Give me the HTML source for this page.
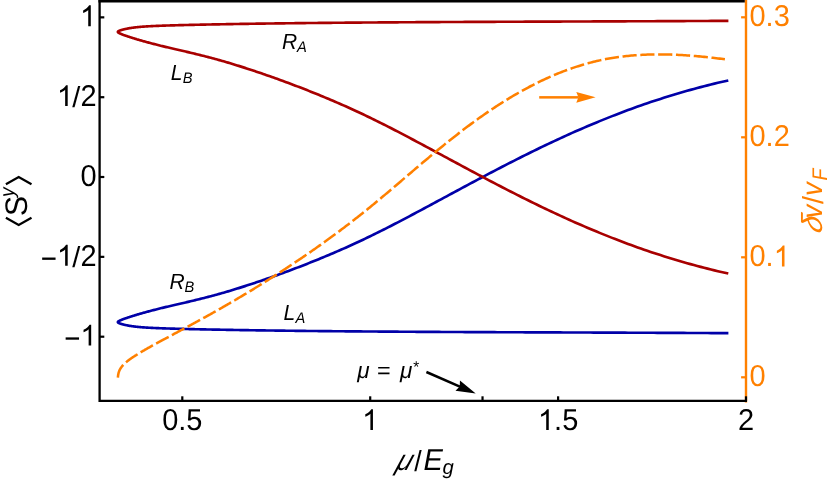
<!DOCTYPE html>
<html><head><meta charset="utf-8"><title>chart</title>
<style>html,body{margin:0;padding:0;background:#fff;}body{width:830px;height:481px;overflow:hidden;font-family:"Liberation Sans",sans-serif;}svg{display:block;will-change:transform;transform:translateZ(0);}text{text-rendering:geometricPrecision;}</style>
</head><body>
<svg width="830" height="481" viewBox="0 0 830 481">
<rect width="830" height="481" fill="#fff"/>
<g fill="none" stroke-linejoin="round">
<path d="M728.40 333.16 L724.91 333.14 L721.43 333.12 L717.96 333.10 L714.51 333.08 L711.06 333.07 L707.62 333.05 L704.19 333.03 L700.77 333.02 L697.36 333.00 L693.96 332.98 L690.57 332.97 L687.20 332.95 L683.83 332.94 L680.47 332.92 L677.12 332.90 L673.78 332.89 L670.45 332.87 L667.13 332.86 L663.82 332.84 L660.53 332.83 L657.24 332.82 L653.96 332.80 L650.69 332.79 L647.43 332.77 L644.18 332.76 L640.94 332.75 L637.71 332.73 L634.49 332.72 L631.29 332.71 L628.09 332.70 L624.90 332.68 L621.72 332.67 L618.55 332.66 L615.39 332.65 L612.24 332.63 L609.10 332.62 L605.98 332.61 L602.86 332.60 L599.75 332.59 L596.65 332.57 L593.56 332.56 L590.48 332.55 L587.41 332.54 L584.35 332.53 L581.30 332.52 L578.27 332.51 L575.24 332.50 L572.22 332.48 L569.21 332.47 L566.21 332.46 L563.22 332.45 L560.24 332.44 L557.27 332.43 L554.31 332.42 L551.36 332.41 L548.43 332.40 L545.50 332.39 L542.58 332.38 L539.67 332.36 L536.77 332.35 L533.88 332.34 L531.00 332.33 L528.13 332.32 L525.27 332.31 L522.43 332.30 L519.59 332.29 L516.76 332.28 L513.94 332.27 L511.13 332.26 L508.33 332.25 L505.54 332.23 L502.76 332.22 L499.99 332.21 L497.23 332.20 L494.49 332.19 L491.75 332.18 L489.02 332.17 L486.30 332.16 L483.59 332.14 L480.89 332.13 L478.20 332.12 L475.52 332.11 L472.85 332.10 L470.19 332.08 L467.55 332.07 L464.91 332.06 L462.28 332.05 L459.66 332.04 L457.05 332.02 L454.45 332.01 L451.86 332.00 L449.28 331.99 L446.71 331.97 L444.15 331.96 L441.60 331.95 L439.07 331.93 L436.54 331.92 L434.02 331.91 L431.51 331.89 L429.01 331.88 L426.52 331.87 L424.04 331.85 L421.57 331.84 L419.11 331.82 L416.66 331.81 L414.22 331.80 L411.79 331.78 L409.38 331.77 L406.97 331.75 L404.57 331.74 L402.18 331.72 L399.80 331.71 L397.43 331.69 L395.07 331.68 L392.72 331.66 L390.38 331.65 L388.05 331.63 L385.73 331.61 L383.42 331.60 L381.13 331.58 L378.84 331.57 L376.56 331.55 L374.29 331.53 L372.03 331.52 L369.78 331.50 L367.54 331.49 L365.31 331.47 L363.09 331.45 L360.88 331.43 L358.68 331.42 L356.49 331.40 L354.32 331.38 L352.15 331.37 L349.99 331.35 L347.84 331.33 L345.70 331.31 L343.57 331.29 L341.45 331.28 L339.34 331.26 L337.24 331.24 L335.15 331.22 L333.07 331.20 L331.00 331.18 L328.94 331.16 L326.89 331.14 L324.86 331.13 L322.83 331.11 L320.81 331.09 L318.80 331.07 L316.80 331.05 L314.81 331.03 L312.83 331.01 L310.86 330.99 L308.90 330.97 L306.95 330.95 L305.01 330.93 L303.08 330.90 L301.16 330.88 L299.25 330.86 L297.35 330.84 L295.47 330.82 L293.59 330.80 L291.72 330.78 L289.86 330.75 L288.01 330.73 L286.17 330.71 L284.34 330.69 L282.52 330.67 L280.71 330.64 L278.91 330.62 L277.12 330.60 L275.34 330.57 L273.57 330.55 L271.81 330.53 L270.06 330.50 L268.32 330.48 L266.59 330.46 L264.88 330.43 L263.17 330.41 L261.47 330.39 L259.78 330.36 L258.10 330.34 L256.43 330.31 L254.77 330.29 L253.12 330.26 L251.48 330.24 L249.85 330.21 L248.23 330.19 L246.62 330.16 L245.02 330.14 L243.43 330.11 L241.85 330.09 L240.28 330.06 L238.72 330.04 L237.17 330.01 L235.63 329.98 L234.11 329.96 L232.59 329.93 L231.08 329.91 L229.58 329.88 L228.09 329.85 L226.61 329.83 L225.14 329.80 L223.68 329.77 L222.23 329.75 L220.79 329.72 L219.36 329.69 L217.94 329.67 L216.53 329.64 L215.13 329.61 L213.74 329.59 L212.36 329.56 L210.99 329.53 L209.63 329.50 L208.28 329.48 L206.94 329.45 L205.61 329.42 L204.29 329.39 L202.98 329.37 L201.69 329.34 L200.40 329.31 L199.12 329.28 L197.85 329.26 L196.59 329.23 L195.34 329.20 L194.10 329.17 L192.87 329.14 L191.65 329.12 L190.44 329.09 L189.24 329.06 L188.05 329.03 L186.87 329.00 L185.70 328.98 L184.54 328.95 L183.39 328.92 L182.25 328.89 L181.12 328.86 L180.00 328.83 L178.89 328.81 L177.79 328.78 L176.70 328.75 L175.62 328.72 L174.55 328.69 L173.49 328.66 L172.44 328.63 L171.40 328.60 L170.37 328.57 L169.35 328.54 L168.34 328.51 L167.35 328.48 L166.36 328.45 L165.38 328.42 L164.41 328.39 L163.45 328.35 L162.50 328.32 L161.56 328.29 L160.63 328.25 L159.71 328.22 L158.80 328.18 L157.90 328.15 L157.01 328.11 L156.13 328.07 L155.26 328.04 L154.40 328.00 L153.55 327.96 L152.71 327.92 L151.88 327.88 L151.06 327.84 L150.25 327.79 L149.45 327.75 L148.66 327.70 L147.88 327.66 L147.11 327.61 L146.35 327.57 L145.60 327.52 L144.86 327.47 L144.13 327.42 L143.41 327.36 L142.70 327.31 L142.00 327.26 L141.31 327.20 L140.63 327.15 L139.96 327.09 L139.30 327.03 L138.65 326.97 L138.01 326.91 L137.38 326.85 L136.76 326.78 L136.15 326.72 L135.55 326.65 L134.96 326.58 L134.38 326.51 L133.81 326.44 L133.25 326.37 L132.70 326.29 L132.16 326.22 L131.63 326.14 L131.11 326.06 L130.60 325.98 L130.10 325.90 L129.61 325.82 L129.13 325.74 L128.66 325.65 L128.20 325.57 L127.75 325.49 L127.31 325.40 L126.88 325.32 L126.46 325.23 L126.05 325.15 L125.65 325.06 L125.26 324.97 L124.88 324.89 L124.51 324.80 L124.15 324.71 L123.80 324.63 L123.46 324.54 L123.13 324.46 L122.81 324.37 L122.50 324.29 L122.20 324.20 L121.91 324.12 L121.63 324.04 L121.36 323.96 L121.10 323.88 L120.85 323.80 L120.61 323.72 L120.38 323.64 L120.16 323.56 L119.95 323.49 L119.75 323.42 L119.56 323.34 L119.38 323.27 L119.21 323.20 L119.05 323.13 L118.90 323.06 L118.76 323.00 L118.63 322.93 L118.51 322.86 L118.40 322.80 L118.30 322.73 L118.21 322.67 L118.13 322.60 L118.06 322.54 L118.00 322.47 L117.95 322.41 L117.91 322.34 L117.88 322.28 L117.86 322.21 L117.85 322.15 L117.85 322.08 L117.86 322.02 L117.88 321.95 L117.91 321.88 L117.95 321.81 L118.00 321.74 L118.06 321.67 L118.13 321.60 L118.21 321.53 L118.30 321.45 L118.40 321.38 L118.51 321.30 L118.63 321.22 L118.76 321.14 L118.90 321.06 L119.05 320.98 L119.21 320.89 L119.38 320.80 L119.56 320.71 L119.75 320.62 L119.95 320.53 L120.16 320.43 L120.38 320.33 L120.61 320.23 L120.85 320.13 L121.10 320.03 L121.36 319.92 L121.63 319.81 L121.91 319.70 L122.20 319.58 L122.49 319.46 L122.80 319.34 L123.12 319.22 L123.45 319.10 L123.79 318.97 L124.14 318.85 L124.50 318.72 L124.87 318.58 L125.25 318.45 L125.64 318.31 L126.04 318.17 L126.45 318.03 L126.87 317.89 L127.30 317.74 L127.74 317.59 L128.19 317.44 L128.65 317.29 L129.12 317.14 L129.60 316.98 L130.09 316.82 L130.59 316.66 L131.10 316.50 L131.62 316.33 L132.15 316.17 L132.69 316.00 L133.24 315.83 L133.80 315.66 L134.37 315.48 L134.95 315.30 L135.54 315.13 L136.14 314.95 L136.74 314.76 L137.36 314.58 L137.99 314.39 L138.63 314.20 L139.28 314.01 L139.94 313.82 L140.61 313.63 L141.29 313.43 L141.98 313.24 L142.68 313.04 L143.39 312.84 L144.11 312.64 L144.84 312.43 L145.58 312.23 L146.33 312.02 L147.09 311.81 L147.86 311.60 L148.64 311.39 L149.43 311.18 L150.23 310.97 L151.04 310.75 L151.86 310.54 L152.68 310.32 L153.52 310.10 L154.37 309.88 L155.23 309.66 L156.10 309.43 L156.98 309.21 L157.87 308.99 L158.77 308.76 L159.68 308.53 L160.60 308.30 L161.53 308.07 L162.47 307.84 L163.42 307.61 L164.38 307.38 L165.35 307.15 L166.33 306.91 L167.32 306.68 L168.32 306.44 L169.33 306.20 L170.34 305.96 L171.37 305.72 L172.41 305.48 L173.46 305.24 L174.52 304.99 L175.59 304.75 L176.67 304.50 L177.76 304.25 L178.86 303.99 L179.97 303.74 L181.09 303.48 L182.22 303.22 L183.36 302.96 L184.51 302.69 L185.67 302.42 L186.84 302.15 L188.02 301.87 L189.20 301.59 L190.40 301.31 L191.61 301.02 L192.83 300.73 L194.06 300.43 L195.30 300.13 L196.55 299.83 L197.81 299.52 L199.08 299.21 L200.36 298.89 L201.65 298.57 L202.95 298.24 L204.26 297.91 L205.58 297.58 L206.91 297.23 L208.24 296.88 L209.59 296.53 L210.95 296.17 L212.32 295.81 L213.70 295.43 L215.09 295.06 L216.49 294.67 L217.90 294.28 L219.32 293.88 L220.75 293.48 L222.19 293.07 L223.64 292.65 L225.10 292.23 L226.57 291.80 L228.04 291.36 L229.53 290.92 L231.03 290.47 L232.54 290.01 L234.06 289.55 L235.59 289.08 L237.13 288.60 L238.68 288.12 L240.24 287.63 L241.81 287.13 L243.39 286.63 L244.98 286.12 L246.58 285.60 L248.18 285.08 L249.80 284.55 L251.43 284.01 L253.07 283.47 L254.72 282.92 L256.38 282.36 L258.05 281.79 L259.73 281.22 L261.42 280.64 L263.12 280.06 L264.83 279.47 L266.55 278.87 L268.27 278.26 L270.01 277.65 L271.76 277.03 L273.52 276.40 L275.29 275.77 L277.07 275.13 L278.86 274.48 L280.66 273.83 L282.47 273.16 L284.29 272.50 L286.12 271.82 L287.95 271.14 L289.80 270.45 L291.66 269.75 L293.53 269.05 L295.41 268.34 L297.30 267.62 L299.20 266.89 L301.11 266.15 L303.03 265.41 L304.96 264.66 L306.90 263.90 L308.84 263.13 L310.80 262.35 L312.77 261.56 L314.75 260.77 L316.74 259.97 L318.74 259.15 L320.75 258.33 L322.77 257.50 L324.80 256.65 L326.84 255.80 L328.88 254.94 L330.94 254.07 L333.01 253.19 L335.09 252.29 L337.18 251.39 L339.28 250.48 L341.39 249.55 L343.51 248.62 L345.64 247.67 L347.78 246.71 L349.92 245.74 L352.08 244.76 L354.25 243.77 L356.43 242.76 L358.62 241.75 L360.82 240.72 L363.03 239.68 L365.25 238.63 L367.48 237.56 L369.72 236.48 L371.96 235.39 L374.22 234.29 L376.49 233.17 L378.77 232.04 L381.06 230.90 L383.36 229.74 L385.67 228.58 L387.99 227.40 L390.32 226.21 L392.65 225.01 L395.00 223.80 L397.36 222.58 L399.73 221.34 L402.11 220.10 L404.50 218.85 L406.90 217.58 L409.31 216.31 L411.73 215.03 L414.15 213.74 L416.59 212.44 L419.04 211.14 L421.50 209.82 L423.97 208.50 L426.45 207.17 L428.94 205.84 L431.44 204.49 L433.95 203.14 L436.46 201.78 L438.99 200.42 L441.53 199.05 L444.08 197.68 L446.64 196.30 L449.21 194.91 L451.79 193.52 L454.38 192.13 L456.97 190.73 L459.58 189.32 L462.20 187.92 L464.83 186.51 L467.47 185.09 L470.12 183.68 L472.78 182.26 L475.45 180.83 L478.12 179.41 L480.81 177.98 L483.51 176.56 L486.22 175.13 L488.94 173.70 L491.67 172.26 L494.41 170.83 L497.16 169.40 L499.91 167.97 L502.68 166.54 L505.46 165.10 L508.25 163.67 L511.05 162.24 L513.86 160.81 L516.68 159.39 L519.51 157.96 L522.34 156.54 L525.19 155.12 L528.05 153.70 L530.92 152.28 L533.80 150.87 L536.69 149.46 L539.59 148.05 L542.49 146.65 L545.41 145.26 L548.34 143.86 L551.28 142.47 L554.23 141.09 L557.19 139.71 L560.16 138.34 L563.14 136.98 L566.12 135.62 L569.12 134.26 L572.13 132.91 L575.15 131.57 L578.18 130.24 L581.22 128.92 L584.27 127.60 L587.32 126.29 L590.39 124.99 L593.47 123.69 L596.56 122.41 L599.66 121.13 L602.77 119.87 L605.89 118.61 L609.01 117.36 L612.15 116.13 L615.30 114.90 L618.46 113.68 L621.63 112.48 L624.81 111.28 L628.00 110.10 L631.19 108.93 L634.40 107.76 L637.62 106.61 L640.85 105.47 L644.09 104.34 L647.34 103.23 L650.60 102.12 L653.86 101.03 L657.14 99.95 L660.43 98.89 L663.73 97.83 L667.04 96.79 L670.36 95.76 L673.68 94.75 L677.02 93.74 L680.37 92.76 L683.73 91.78 L687.10 90.82 L690.48 89.87 L693.87 88.94 L697.26 88.02 L700.67 87.12 L704.09 86.23 L707.52 85.36 L710.96 84.50 L714.41 83.66 L717.86 82.83 L721.33 82.02 L724.81 81.22 L728.30 80.44" stroke="#0000a8" stroke-width="2.65"/>
<path d="M728.40 20.84 L724.91 20.86 L721.43 20.88 L717.96 20.90 L714.51 20.92 L711.06 20.93 L707.62 20.95 L704.19 20.97 L700.77 20.98 L697.36 21.00 L693.96 21.02 L690.57 21.03 L687.20 21.05 L683.83 21.06 L680.47 21.08 L677.12 21.10 L673.78 21.11 L670.45 21.13 L667.13 21.14 L663.82 21.16 L660.53 21.17 L657.24 21.18 L653.96 21.20 L650.69 21.21 L647.43 21.23 L644.18 21.24 L640.94 21.25 L637.71 21.27 L634.49 21.28 L631.29 21.29 L628.09 21.30 L624.90 21.32 L621.72 21.33 L618.55 21.34 L615.39 21.35 L612.24 21.37 L609.10 21.38 L605.98 21.39 L602.86 21.40 L599.75 21.41 L596.65 21.43 L593.56 21.44 L590.48 21.45 L587.41 21.46 L584.35 21.47 L581.30 21.48 L578.27 21.49 L575.24 21.50 L572.22 21.52 L569.21 21.53 L566.21 21.54 L563.22 21.55 L560.24 21.56 L557.27 21.57 L554.31 21.58 L551.36 21.59 L548.43 21.60 L545.50 21.61 L542.58 21.62 L539.67 21.64 L536.77 21.65 L533.88 21.66 L531.00 21.67 L528.13 21.68 L525.27 21.69 L522.43 21.70 L519.59 21.71 L516.76 21.72 L513.94 21.73 L511.13 21.74 L508.33 21.75 L505.54 21.77 L502.76 21.78 L499.99 21.79 L497.23 21.80 L494.49 21.81 L491.75 21.82 L489.02 21.83 L486.30 21.84 L483.59 21.86 L480.89 21.87 L478.20 21.88 L475.52 21.89 L472.85 21.90 L470.19 21.92 L467.55 21.93 L464.91 21.94 L462.28 21.95 L459.66 21.96 L457.05 21.98 L454.45 21.99 L451.86 22.00 L449.28 22.01 L446.71 22.03 L444.15 22.04 L441.60 22.05 L439.07 22.07 L436.54 22.08 L434.02 22.09 L431.51 22.11 L429.01 22.12 L426.52 22.13 L424.04 22.15 L421.57 22.16 L419.11 22.18 L416.66 22.19 L414.22 22.20 L411.79 22.22 L409.38 22.23 L406.97 22.25 L404.57 22.26 L402.18 22.28 L399.80 22.29 L397.43 22.31 L395.07 22.32 L392.72 22.34 L390.38 22.35 L388.05 22.37 L385.73 22.39 L383.42 22.40 L381.13 22.42 L378.84 22.43 L376.56 22.45 L374.29 22.47 L372.03 22.48 L369.78 22.50 L367.54 22.51 L365.31 22.53 L363.09 22.55 L360.88 22.57 L358.68 22.58 L356.49 22.60 L354.32 22.62 L352.15 22.63 L349.99 22.65 L347.84 22.67 L345.70 22.69 L343.57 22.71 L341.45 22.72 L339.34 22.74 L337.24 22.76 L335.15 22.78 L333.07 22.80 L331.00 22.82 L328.94 22.84 L326.89 22.86 L324.86 22.87 L322.83 22.89 L320.81 22.91 L318.80 22.93 L316.80 22.95 L314.81 22.97 L312.83 22.99 L310.86 23.01 L308.90 23.03 L306.95 23.05 L305.01 23.07 L303.08 23.10 L301.16 23.12 L299.25 23.14 L297.35 23.16 L295.47 23.18 L293.59 23.20 L291.72 23.22 L289.86 23.25 L288.01 23.27 L286.17 23.29 L284.34 23.31 L282.52 23.33 L280.71 23.36 L278.91 23.38 L277.12 23.40 L275.34 23.43 L273.57 23.45 L271.81 23.47 L270.06 23.50 L268.32 23.52 L266.59 23.54 L264.88 23.57 L263.17 23.59 L261.47 23.61 L259.78 23.64 L258.10 23.66 L256.43 23.69 L254.77 23.71 L253.12 23.74 L251.48 23.76 L249.85 23.79 L248.23 23.81 L246.62 23.84 L245.02 23.86 L243.43 23.89 L241.85 23.91 L240.28 23.94 L238.72 23.96 L237.17 23.99 L235.63 24.02 L234.11 24.04 L232.59 24.07 L231.08 24.09 L229.58 24.12 L228.09 24.15 L226.61 24.17 L225.14 24.20 L223.68 24.23 L222.23 24.25 L220.79 24.28 L219.36 24.31 L217.94 24.33 L216.53 24.36 L215.13 24.39 L213.74 24.41 L212.36 24.44 L210.99 24.47 L209.63 24.50 L208.28 24.52 L206.94 24.55 L205.61 24.58 L204.29 24.61 L202.98 24.63 L201.69 24.66 L200.40 24.69 L199.12 24.72 L197.85 24.74 L196.59 24.77 L195.34 24.80 L194.10 24.83 L192.87 24.86 L191.65 24.88 L190.44 24.91 L189.24 24.94 L188.05 24.97 L186.87 25.00 L185.70 25.02 L184.54 25.05 L183.39 25.08 L182.25 25.11 L181.12 25.14 L180.00 25.17 L178.89 25.19 L177.79 25.22 L176.70 25.25 L175.62 25.28 L174.55 25.31 L173.49 25.34 L172.44 25.37 L171.40 25.40 L170.37 25.43 L169.35 25.46 L168.34 25.49 L167.35 25.52 L166.36 25.55 L165.38 25.58 L164.41 25.61 L163.45 25.65 L162.50 25.68 L161.56 25.71 L160.63 25.75 L159.71 25.78 L158.80 25.82 L157.90 25.85 L157.01 25.89 L156.13 25.93 L155.26 25.96 L154.40 26.00 L153.55 26.04 L152.71 26.08 L151.88 26.12 L151.06 26.16 L150.25 26.21 L149.45 26.25 L148.66 26.30 L147.88 26.34 L147.11 26.39 L146.35 26.43 L145.60 26.48 L144.86 26.53 L144.13 26.58 L143.41 26.64 L142.70 26.69 L142.00 26.74 L141.31 26.80 L140.63 26.85 L139.96 26.91 L139.30 26.97 L138.65 27.03 L138.01 27.09 L137.38 27.15 L136.76 27.22 L136.15 27.28 L135.55 27.35 L134.96 27.42 L134.38 27.49 L133.81 27.56 L133.25 27.63 L132.70 27.71 L132.16 27.78 L131.63 27.86 L131.11 27.94 L130.60 28.02 L130.10 28.10 L129.61 28.18 L129.13 28.26 L128.66 28.35 L128.20 28.43 L127.75 28.51 L127.31 28.60 L126.88 28.68 L126.46 28.77 L126.05 28.85 L125.65 28.94 L125.26 29.03 L124.88 29.11 L124.51 29.20 L124.15 29.29 L123.80 29.37 L123.46 29.46 L123.13 29.54 L122.81 29.63 L122.50 29.71 L122.20 29.80 L121.91 29.88 L121.63 29.96 L121.36 30.04 L121.10 30.12 L120.85 30.20 L120.61 30.28 L120.38 30.36 L120.16 30.44 L119.95 30.51 L119.75 30.58 L119.56 30.66 L119.38 30.73 L119.21 30.80 L119.05 30.87 L118.90 30.94 L118.76 31.00 L118.63 31.07 L118.51 31.14 L118.40 31.20 L118.30 31.27 L118.21 31.33 L118.13 31.40 L118.06 31.46 L118.00 31.53 L117.95 31.59 L117.91 31.66 L117.88 31.72 L117.86 31.79 L117.85 31.85 L117.85 31.92 L117.86 31.98 L117.88 32.05 L117.91 32.12 L117.95 32.19 L118.00 32.26 L118.06 32.33 L118.13 32.40 L118.21 32.47 L118.30 32.55 L118.40 32.62 L118.51 32.70 L118.63 32.78 L118.76 32.86 L118.90 32.94 L119.05 33.02 L119.21 33.11 L119.38 33.20 L119.56 33.29 L119.75 33.38 L119.95 33.47 L120.16 33.57 L120.38 33.67 L120.61 33.77 L120.85 33.87 L121.10 33.97 L121.36 34.08 L121.63 34.19 L121.91 34.30 L122.20 34.42 L122.49 34.54 L122.80 34.66 L123.12 34.78 L123.45 34.90 L123.79 35.03 L124.14 35.15 L124.50 35.28 L124.87 35.42 L125.25 35.55 L125.64 35.69 L126.04 35.83 L126.45 35.97 L126.87 36.11 L127.30 36.26 L127.74 36.41 L128.19 36.56 L128.65 36.71 L129.12 36.86 L129.60 37.02 L130.09 37.18 L130.59 37.34 L131.10 37.50 L131.62 37.67 L132.15 37.83 L132.69 38.00 L133.24 38.17 L133.80 38.34 L134.37 38.52 L134.95 38.70 L135.54 38.87 L136.14 39.05 L136.74 39.24 L137.36 39.42 L137.99 39.61 L138.63 39.80 L139.28 39.99 L139.94 40.18 L140.61 40.37 L141.29 40.57 L141.98 40.76 L142.68 40.96 L143.39 41.16 L144.11 41.36 L144.84 41.57 L145.58 41.77 L146.33 41.98 L147.09 42.19 L147.86 42.40 L148.64 42.61 L149.43 42.82 L150.23 43.03 L151.04 43.25 L151.86 43.46 L152.68 43.68 L153.52 43.90 L154.37 44.12 L155.23 44.34 L156.10 44.57 L156.98 44.79 L157.87 45.01 L158.77 45.24 L159.68 45.47 L160.60 45.70 L161.53 45.93 L162.47 46.16 L163.42 46.39 L164.38 46.62 L165.35 46.85 L166.33 47.09 L167.32 47.32 L168.32 47.56 L169.33 47.80 L170.34 48.04 L171.37 48.28 L172.41 48.52 L173.46 48.76 L174.52 49.01 L175.59 49.25 L176.67 49.50 L177.76 49.75 L178.86 50.01 L179.97 50.26 L181.09 50.52 L182.22 50.78 L183.36 51.04 L184.51 51.31 L185.67 51.58 L186.84 51.85 L188.02 52.13 L189.20 52.41 L190.40 52.69 L191.61 52.98 L192.83 53.27 L194.06 53.57 L195.30 53.87 L196.55 54.17 L197.81 54.48 L199.08 54.79 L200.36 55.11 L201.65 55.43 L202.95 55.76 L204.26 56.09 L205.58 56.42 L206.91 56.77 L208.24 57.12 L209.59 57.47 L210.95 57.83 L212.32 58.19 L213.70 58.57 L215.09 58.94 L216.49 59.33 L217.90 59.72 L219.32 60.12 L220.75 60.52 L222.19 60.93 L223.64 61.35 L225.10 61.77 L226.57 62.20 L228.04 62.64 L229.53 63.08 L231.03 63.53 L232.54 63.99 L234.06 64.45 L235.59 64.92 L237.13 65.40 L238.68 65.88 L240.24 66.37 L241.81 66.87 L243.39 67.37 L244.98 67.88 L246.58 68.40 L248.18 68.92 L249.80 69.45 L251.43 69.99 L253.07 70.53 L254.72 71.08 L256.38 71.64 L258.05 72.21 L259.73 72.78 L261.42 73.36 L263.12 73.94 L264.83 74.53 L266.55 75.13 L268.27 75.74 L270.01 76.35 L271.76 76.97 L273.52 77.60 L275.29 78.23 L277.07 78.87 L278.86 79.52 L280.66 80.17 L282.47 80.84 L284.29 81.50 L286.12 82.18 L287.95 82.86 L289.80 83.55 L291.66 84.25 L293.53 84.95 L295.41 85.66 L297.30 86.38 L299.20 87.11 L301.11 87.85 L303.03 88.59 L304.96 89.34 L306.90 90.10 L308.84 90.87 L310.80 91.65 L312.77 92.44 L314.75 93.23 L316.74 94.03 L318.74 94.85 L320.75 95.67 L322.77 96.50 L324.80 97.35 L326.84 98.20 L328.88 99.06 L330.94 99.93 L333.01 100.81 L335.09 101.71 L337.18 102.61 L339.28 103.52 L341.39 104.45 L343.51 105.38 L345.64 106.33 L347.78 107.29 L349.92 108.26 L352.08 109.24 L354.25 110.23 L356.43 111.24 L358.62 112.25 L360.82 113.28 L363.03 114.32 L365.25 115.37 L367.48 116.44 L369.72 117.52 L371.96 118.61 L374.22 119.71 L376.49 120.83 L378.77 121.96 L381.06 123.10 L383.36 124.26 L385.67 125.42 L387.99 126.60 L390.32 127.79 L392.65 128.99 L395.00 130.20 L397.36 131.42 L399.73 132.66 L402.11 133.90 L404.50 135.15 L406.90 136.42 L409.31 137.69 L411.73 138.97 L414.15 140.26 L416.59 141.56 L419.04 142.86 L421.50 144.18 L423.97 145.50 L426.45 146.83 L428.94 148.16 L431.44 149.51 L433.95 150.86 L436.46 152.22 L438.99 153.58 L441.53 154.95 L444.08 156.32 L446.64 157.70 L449.21 159.09 L451.79 160.48 L454.38 161.87 L456.97 163.27 L459.58 164.68 L462.20 166.08 L464.83 167.49 L467.47 168.91 L470.12 170.32 L472.78 171.74 L475.45 173.17 L478.12 174.59 L480.81 176.02 L483.51 177.44 L486.22 178.87 L488.94 180.30 L491.67 181.74 L494.41 183.17 L497.16 184.60 L499.91 186.03 L502.68 187.46 L505.46 188.90 L508.25 190.33 L511.05 191.76 L513.86 193.19 L516.68 194.61 L519.51 196.04 L522.34 197.46 L525.19 198.88 L528.05 200.30 L530.92 201.72 L533.80 203.13 L536.69 204.54 L539.59 205.95 L542.49 207.35 L545.41 208.74 L548.34 210.14 L551.28 211.53 L554.23 212.91 L557.19 214.29 L560.16 215.66 L563.14 217.02 L566.12 218.38 L569.12 219.74 L572.13 221.09 L575.15 222.43 L578.18 223.76 L581.22 225.08 L584.27 226.40 L587.32 227.71 L590.39 229.01 L593.47 230.31 L596.56 231.59 L599.66 232.87 L602.77 234.13 L605.89 235.39 L609.01 236.64 L612.15 237.87 L615.30 239.10 L618.46 240.32 L621.63 241.52 L624.81 242.72 L628.00 243.90 L631.19 245.07 L634.40 246.24 L637.62 247.39 L640.85 248.53 L644.09 249.66 L647.34 250.77 L650.60 251.88 L653.86 252.97 L657.14 254.05 L660.43 255.11 L663.73 256.17 L667.04 257.21 L670.36 258.24 L673.68 259.25 L677.02 260.26 L680.37 261.24 L683.73 262.22 L687.10 263.18 L690.48 264.13 L693.87 265.06 L697.26 265.98 L700.67 266.88 L704.09 267.77 L707.52 268.64 L710.96 269.50 L714.41 270.34 L717.86 271.17 L721.33 271.98 L724.81 272.78 L728.30 273.56" stroke="#a80000" stroke-width="2.65"/>
<path d="M117.88 377.60 L117.90 377.48 L117.92 377.15 L117.95 376.82 L117.98 376.51 L118.01 376.20 L118.04 375.89 L118.08 375.60 L118.12 375.31 L118.16 375.02 L118.20 374.74 L118.25 374.47 L118.30 374.20 L118.35 373.94 L118.40 373.69 L118.46 373.43 L118.52 373.19 L118.58 372.95 L118.64 372.71 L118.71 372.48 L118.78 372.25 L118.85 372.02 L118.92 371.80 L119.00 371.58 L119.08 371.37 L119.16 371.16 L119.24 370.95 L119.33 370.74 L119.42 370.54 L119.51 370.33 L119.60 370.13 L119.70 369.94 L119.80 369.74 L119.90 369.55 L120.00 369.35 L120.11 369.16 L120.22 368.97 L120.33 368.78 L120.44 368.59 L120.56 368.40 L120.68 368.21 L120.80 368.02 L120.92 367.83 L121.05 367.65 L121.18 367.46 L121.31 367.28 L121.44 367.09 L121.58 366.91 L121.72 366.73 L121.86 366.55 L122.00 366.36 L122.15 366.18 L122.30 366.00 L122.45 365.82 L122.60 365.64 L122.76 365.46 L122.92 365.29 L123.08 365.11 L123.24 364.93 L123.41 364.75 L123.58 364.58 L123.75 364.40 L123.92 364.22 L124.10 364.05 L124.28 363.87 L124.46 363.70 L124.64 363.52 L124.83 363.35 L125.02 363.17 L125.21 363.00 L125.40 362.82 L125.60 362.65 L125.80 362.47 L126.00 362.30 L126.20 362.12 L126.41 361.95 L126.62 361.78 L126.83 361.60 L127.04 361.43 L127.26 361.25 L127.48 361.08 L127.70 360.90 L127.92 360.73 L128.15 360.55 L128.38 360.38 L128.61 360.20 L128.84 360.03 L129.08 359.85 L129.32 359.68 L129.56 359.50 L129.80 359.32 L130.05 359.15 L130.30 358.97 L130.55 358.79 L130.80 358.61 L131.06 358.43 L131.32 358.25 L131.58 358.07 L131.84 357.89 L132.11 357.71 L132.38 357.53 L132.65 357.35 L132.92 357.17 L133.20 356.98 L133.48 356.80 L133.76 356.62 L134.04 356.43 L134.33 356.24 L134.62 356.06 L134.91 355.87 L135.20 355.68 L135.50 355.49 L135.80 355.31 L136.10 355.12 L136.40 354.92 L136.71 354.73 L137.02 354.54 L137.33 354.35 L137.64 354.15 L137.96 353.96 L138.27 353.76 L138.60 353.57 L138.92 353.37 L139.25 353.17 L139.57 352.97 L139.91 352.77 L140.24 352.57 L140.58 352.37 L140.91 352.17 L141.26 351.97 L141.60 351.76 L141.95 351.56 L142.29 351.36 L142.65 351.15 L143.00 350.94 L143.35 350.73 L143.71 350.53 L144.07 350.32 L144.44 350.11 L144.80 349.89 L145.17 349.68 L145.54 349.47 L145.92 349.26 L146.29 349.04 L146.67 348.82 L147.05 348.61 L147.44 348.39 L147.82 348.17 L148.21 347.95 L148.60 347.73 L149.00 347.51 L149.39 347.29 L149.79 347.06 L150.19 346.84 L150.60 346.61 L151.00 346.39 L151.41 346.16 L151.82 345.93 L152.24 345.70 L152.65 345.47 L153.07 345.24 L153.49 345.01 L153.92 344.78 L154.34 344.54 L154.77 344.31 L155.20 344.07 L155.64 343.83 L156.07 343.59 L156.51 343.35 L156.95 343.11 L157.40 342.87 L157.84 342.63 L158.29 342.39 L158.74 342.14 L159.19 341.89 L159.65 341.65 L160.11 341.40 L160.57 341.15 L161.03 340.90 L161.50 340.65 L161.97 340.40 L162.44 340.14 L162.91 339.89 L163.39 339.63 L163.87 339.37 L164.35 339.11 L164.83 338.86 L165.32 338.59 L165.81 338.33 L166.30 338.07 L166.79 337.81 L167.29 337.54 L167.79 337.27 L168.29 337.01 L168.79 336.74 L169.30 336.47 L169.81 336.19 L170.32 335.92 L170.83 335.65 L171.35 335.37 L171.87 335.10 L172.39 334.82 L172.91 334.54 L173.44 334.26 L173.97 333.98 L174.50 333.69 L175.03 333.41 L175.57 333.12 L176.11 332.84 L176.65 332.55 L177.19 332.26 L177.74 331.97 L178.29 331.67 L178.84 331.38 L179.39 331.08 L179.95 330.79 L180.50 330.49 L181.07 330.19 L181.63 329.89 L182.20 329.58 L182.76 329.28 L183.34 328.97 L183.91 328.67 L184.48 328.36 L185.06 328.05 L185.64 327.74 L186.23 327.42 L186.81 327.11 L187.40 326.79 L187.99 326.47 L188.59 326.16 L189.18 325.83 L189.78 325.51 L190.38 325.19 L190.99 324.86 L191.59 324.53 L192.20 324.21 L192.81 323.88 L193.43 323.54 L194.04 323.21 L194.66 322.87 L195.28 322.54 L195.91 322.20 L196.53 321.86 L197.16 321.51 L197.79 321.17 L198.43 320.82 L199.06 320.48 L199.70 320.13 L200.34 319.78 L200.98 319.42 L201.63 319.07 L202.28 318.71 L202.93 318.35 L203.58 317.99 L204.24 317.63 L204.90 317.27 L205.56 316.90 L206.22 316.54 L206.89 316.17 L207.56 315.80 L208.23 315.42 L208.90 315.05 L209.58 314.67 L210.26 314.30 L210.94 313.91 L211.62 313.53 L212.31 313.15 L213.00 312.76 L213.69 312.37 L214.38 311.98 L215.08 311.59 L215.78 311.20 L216.48 310.80 L217.18 310.40 L217.89 310.01 L218.60 309.60 L219.31 309.20 L220.02 308.79 L220.74 308.39 L221.45 307.98 L222.18 307.56 L222.90 307.15 L223.63 306.73 L224.35 306.31 L225.08 305.89 L225.82 305.47 L226.55 305.05 L227.29 304.62 L228.03 304.19 L228.78 303.76 L229.52 303.33 L230.27 302.89 L231.02 302.46 L231.78 302.02 L232.53 301.57 L233.29 301.13 L234.05 300.68 L234.82 300.24 L235.58 299.78 L236.35 299.33 L237.12 298.88 L237.90 298.42 L238.67 297.96 L239.45 297.50 L240.23 297.03 L241.01 296.57 L241.80 296.10 L242.59 295.63 L243.38 295.15 L244.17 294.68 L244.97 294.20 L245.77 293.72 L246.57 293.24 L247.37 292.75 L248.18 292.27 L248.99 291.78 L249.80 291.28 L250.61 290.79 L251.43 290.29 L252.25 289.79 L253.07 289.29 L253.89 288.79 L254.72 288.28 L255.55 287.77 L256.38 287.26 L257.21 286.75 L258.05 286.23 L258.89 285.71 L259.73 285.19 L260.57 284.67 L261.42 284.14 L262.26 283.61 L263.12 283.08 L263.97 282.55 L264.82 282.01 L265.68 281.47 L266.54 280.93 L267.41 280.38 L268.27 279.84 L269.14 279.29 L270.01 278.74 L270.89 278.18 L271.76 277.62 L272.64 277.06 L273.52 276.50 L274.41 275.94 L275.29 275.37 L276.18 274.80 L277.07 274.23 L277.97 273.65 L278.86 273.07 L279.76 272.49 L280.66 271.91 L281.56 271.32 L282.47 270.73 L283.38 270.14 L284.29 269.54 L285.20 268.95 L286.12 268.34 L287.04 267.74 L287.96 267.14 L288.88 266.53 L289.81 265.92 L290.74 265.30 L291.67 264.68 L292.60 264.06 L293.54 263.44 L294.48 262.81 L295.42 262.18 L296.36 261.55 L297.31 260.92 L298.26 260.28 L299.21 259.64 L300.16 258.99 L301.12 258.35 L302.07 257.70 L303.04 257.04 L304.00 256.38 L304.96 255.72 L305.93 255.06 L306.90 254.39 L307.88 253.72 L308.85 253.05 L309.83 252.37 L310.81 251.69 L311.80 251.01 L312.78 250.32 L313.77 249.63 L314.76 248.94 L315.76 248.24 L316.75 247.54 L317.75 246.83 L318.75 246.12 L319.75 245.41 L320.76 244.69 L321.77 243.98 L322.78 243.25 L323.79 242.53 L324.81 241.79 L325.83 241.06 L326.85 240.32 L327.87 239.58 L328.90 238.83 L329.93 238.08 L330.96 237.33 L331.99 236.57 L333.03 235.81 L334.07 235.05 L335.11 234.28 L336.15 233.50 L337.20 232.73 L338.25 231.94 L339.30 231.16 L340.35 230.37 L341.41 229.57 L342.46 228.78 L343.53 227.97 L344.59 227.17 L345.65 226.36 L346.72 225.54 L347.79 224.72 L348.87 223.90 L349.94 223.07 L351.02 222.24 L352.10 221.40 L353.19 220.56 L354.27 219.71 L355.36 218.86 L356.45 218.01 L357.55 217.15 L358.64 216.28 L359.74 215.41 L360.84 214.54 L361.94 213.66 L363.05 212.78 L364.16 211.89 L365.27 211.00 L366.38 210.11 L367.50 209.20 L368.62 208.30 L369.74 207.39 L370.86 206.47 L371.99 205.55 L373.12 204.63 L374.25 203.69 L375.38 202.76 L376.52 201.82 L377.66 200.87 L378.80 199.92 L379.94 198.97 L381.09 198.01 L382.23 197.05 L383.39 196.08 L384.54 195.11 L385.69 194.14 L386.85 193.16 L388.01 192.18 L389.18 191.19 L390.34 190.20 L391.51 189.21 L392.68 188.22 L393.86 187.22 L395.03 186.21 L396.21 185.21 L397.39 184.20 L398.58 183.19 L399.76 182.18 L400.95 181.16 L402.14 180.15 L403.33 179.12 L404.53 178.10 L405.73 177.08 L406.93 176.05 L408.13 175.02 L409.34 173.99 L410.55 172.96 L411.76 171.93 L412.97 170.89 L414.19 169.86 L415.41 168.82 L416.63 167.78 L417.85 166.74 L419.08 165.70 L420.31 164.66 L421.54 163.62 L422.77 162.58 L424.01 161.54 L425.24 160.49 L426.48 159.45 L427.73 158.41 L428.97 157.36 L430.22 156.32 L431.47 155.28 L432.73 154.24 L433.98 153.19 L435.24 152.15 L436.50 151.11 L437.77 150.07 L439.03 149.03 L440.30 147.99 L441.57 146.96 L442.84 145.92 L444.12 144.88 L445.40 143.85 L446.68 142.82 L447.96 141.79 L449.25 140.76 L450.54 139.73 L451.83 138.71 L453.12 137.69 L454.42 136.67 L455.72 135.65 L457.02 134.63 L458.32 133.62 L459.63 132.61 L460.94 131.60 L462.25 130.59 L463.56 129.59 L464.88 128.59 L466.19 127.59 L467.51 126.60 L468.84 125.61 L470.16 124.63 L471.49 123.64 L472.82 122.66 L474.16 121.69 L475.49 120.72 L476.83 119.75 L478.17 118.79 L479.52 117.83 L480.86 116.87 L482.21 115.92 L483.56 114.98 L484.91 114.03 L486.27 113.10 L487.63 112.17 L488.99 111.24 L490.35 110.32 L491.72 109.40 L493.09 108.49 L494.46 107.58 L495.83 106.68 L497.21 105.78 L498.59 104.89 L499.97 104.00 L501.35 103.12 L502.74 102.24 L504.12 101.37 L505.52 100.51 L506.91 99.65 L508.30 98.80 L509.70 97.95 L511.10 97.11 L512.51 96.27 L513.91 95.45 L515.32 94.62 L516.73 93.81 L518.15 93.00 L519.56 92.19 L520.98 91.40 L522.40 90.60 L523.82 89.82 L525.25 89.04 L526.68 88.27 L528.11 87.51 L529.54 86.75 L530.98 86.00 L532.42 85.26 L533.86 84.52 L535.30 83.80 L536.75 83.08 L538.20 82.36 L539.65 81.66 L541.10 80.96 L542.56 80.27 L544.01 79.58 L545.48 78.91 L546.94 78.24 L548.40 77.58 L549.87 76.93 L551.34 76.28 L552.82 75.65 L554.29 75.02 L555.77 74.40 L557.25 73.79 L558.74 73.19 L560.22 72.59 L561.71 72.01 L563.20 71.43 L564.69 70.86 L566.19 70.31 L567.69 69.76 L569.19 69.21 L570.69 68.68 L572.20 68.16 L573.71 67.64 L575.22 67.14 L576.73 66.64 L578.25 66.16 L579.77 65.68 L581.29 65.22 L582.81 64.76 L584.34 64.31 L585.86 63.87 L587.39 63.44 L588.93 63.03 L590.46 62.62 L592.00 62.22 L593.54 61.83 L595.09 61.46 L596.63 61.09 L598.18 60.73 L599.73 60.38 L601.29 60.05 L602.84 59.72 L604.40 59.41 L605.96 59.10 L607.52 58.81 L609.09 58.53 L610.66 58.25 L612.23 57.99 L613.80 57.74 L615.38 57.50 L616.96 57.26 L618.54 57.04 L620.12 56.83 L621.71 56.62 L623.29 56.43 L624.89 56.24 L626.48 56.07 L628.07 55.90 L629.67 55.74 L631.27 55.60 L632.88 55.46 L634.48 55.33 L636.09 55.21 L637.70 55.09 L639.32 54.99 L640.93 54.90 L642.55 54.81 L644.17 54.73 L645.79 54.66 L647.42 54.60 L649.05 54.55 L650.68 54.50 L652.31 54.47 L653.95 54.44 L655.59 54.42 L657.23 54.41 L658.87 54.40 L660.52 54.40 L662.17 54.41 L663.82 54.43 L665.47 54.45 L667.13 54.49 L668.78 54.53 L670.44 54.57 L672.11 54.62 L673.77 54.69 L675.44 54.75 L677.11 54.83 L678.79 54.91 L680.46 54.99 L682.14 55.09 L683.82 55.19 L685.50 55.30 L687.19 55.41 L688.88 55.53 L690.57 55.65 L692.26 55.78 L693.96 55.92 L695.66 56.06 L697.36 56.21 L699.06 56.37 L700.77 56.53 L702.48 56.69 L704.19 56.86 L705.90 57.04 L707.62 57.22 L709.33 57.41 L711.05 57.60 L712.78 57.80 L714.50 58.00 L716.23 58.21 L717.96 58.42 L719.70 58.63 L721.43 58.85 L723.17 59.08 L724.91 59.31" stroke="#ff8000" stroke-width="2.55" stroke-dasharray="14.18 3.65"/>
</g>
<g stroke="#ff8000" fill="none">
<path d="M746.00 0 V402.50" stroke-width="2.4"/>
<path d="M746.00 17.30 h-4.9" stroke-width="2.2"/>
<path d="M746.00 137.30 h-4.9" stroke-width="2.2"/>
<path d="M746.00 257.30 h-4.9" stroke-width="2.2"/>
<path d="M746.00 377.30 h-4.9" stroke-width="2.2"/>
</g>
<g stroke="#000" stroke-width="2.3" fill="none">
<path d="M99.60 0 V400.90 H747.00"/>
<path d="M98.45 1.25 H744.80" stroke-width="2.6"/>
</g>
<g stroke="#000" stroke-width="2.2" fill="none">
<path d="M99.60 17.35 h4.7"/>
<path d="M99.60 97.20 h4.7"/>
<path d="M99.60 177.00 h4.7"/>
<path d="M99.60 256.85 h4.7"/>
<path d="M99.60 336.70 h4.7"/>
<path d="M182.30 400.90 v-4.6"/>
<path d="M370.20 400.90 v-4.6"/>
<path d="M482.53 400.90 v-4.6"/>
<path d="M558.10 400.90 v-4.6"/>
<path d="M746.00 400.90 v-4.6"/>
</g>
<g fill="#ff8000" stroke="none">
<rect x="539.2" y="96.1" width="39.5" height="2.5"/>
<path d="M595.6 97.35 L576.3 91.9 L578.4 97.35 L576.3 102.8 Z"/>
</g>
<g transform="translate(475.70 393.40) rotate(23.46)" fill="#000">
<rect x="-53.74" y="-1.25" width="37.74" height="2.5"/>
<path d="M0 0 L-19.6 -5.6 L-17.4 0 L-19.6 5.6 Z"/>
</g>
<path transform="translate(79.98 26.15) scale(0.01416 -0.01416)" d="M763 0H583V1147Q518 1085 412.5 1023T223 930V1104Q374 1175 487 1276T647 1472H763Z" fill="#000"/>
<path transform="translate(56.89 106.00) scale(0.01416 -0.01416)" d="M763 0H583V1147Q518 1085 412.5 1023T223 930V1104Q374 1175 487 1276T647 1472H763Z" fill="#000"/><text transform="translate(72.31 106.87) scale(1 1.000)" font-family="Liberation Sans, sans-serif" font-size="29" fill="#000">/</text><text transform="translate(80.38 106.00) scale(1 1.040)" font-family="Liberation Sans, sans-serif" font-size="29" fill="#000">2</text>
<text transform="translate(80.38 185.80) scale(1 1.040)" font-family="Liberation Sans, sans-serif" font-size="29" fill="#000">0</text>
<rect x="42.16" y="257.53" width="13.40" height="2.32" fill="#000"/><path transform="translate(56.89 265.65) scale(0.01416 -0.01416)" d="M763 0H583V1147Q518 1085 412.5 1023T223 930V1104Q374 1175 487 1276T647 1472H763Z" fill="#000"/><text transform="translate(72.31 266.52) scale(1 1.000)" font-family="Liberation Sans, sans-serif" font-size="29" fill="#000">/</text><text transform="translate(80.38 265.65) scale(1 1.040)" font-family="Liberation Sans, sans-serif" font-size="29" fill="#000">2</text>
<rect x="65.64" y="337.38" width="13.40" height="2.32" fill="#000"/><path transform="translate(80.38 345.50) scale(0.01416 -0.01416)" d="M763 0H583V1147Q518 1085 412.5 1023T223 930V1104Q374 1175 487 1276T647 1472H763Z" fill="#000"/>
<text transform="translate(162.15 430.00) scale(1 1.040)" font-family="Liberation Sans, sans-serif" font-size="29" fill="#000">0</text><text transform="translate(178.27 430.00) scale(1 1.000)" font-family="Liberation Sans, sans-serif" font-size="29" fill="#000">.</text><text transform="translate(186.33 430.00) scale(1 1.040)" font-family="Liberation Sans, sans-serif" font-size="29" fill="#000">5</text>
<path transform="translate(362.14 430.00) scale(0.01416 -0.01416)" d="M763 0H583V1147Q518 1085 412.5 1023T223 930V1104Q374 1175 487 1276T647 1472H763Z" fill="#000"/>
<path transform="translate(537.95 430.00) scale(0.01416 -0.01416)" d="M763 0H583V1147Q518 1085 412.5 1023T223 930V1104Q374 1175 487 1276T647 1472H763Z" fill="#000"/><text transform="translate(554.07 430.00) scale(1 1.000)" font-family="Liberation Sans, sans-serif" font-size="29" fill="#000">.</text><text transform="translate(562.13 430.00) scale(1 1.040)" font-family="Liberation Sans, sans-serif" font-size="29" fill="#000">5</text>
<text transform="translate(737.94 430.00) scale(1 1.040)" font-family="Liberation Sans, sans-serif" font-size="29" fill="#000">2</text>
<text transform="translate(749.50 26.40) scale(1 1.040)" font-family="Liberation Sans, sans-serif" font-size="29" fill="#ff8000">0</text><text transform="translate(765.62 26.40) scale(1 1.000)" font-family="Liberation Sans, sans-serif" font-size="29" fill="#ff8000">.</text><text transform="translate(773.69 26.40) scale(1 1.040)" font-family="Liberation Sans, sans-serif" font-size="29" fill="#ff8000">3</text>
<text transform="translate(749.50 146.40) scale(1 1.040)" font-family="Liberation Sans, sans-serif" font-size="29" fill="#ff8000">0</text><text transform="translate(765.62 146.40) scale(1 1.000)" font-family="Liberation Sans, sans-serif" font-size="29" fill="#ff8000">.</text><text transform="translate(773.69 146.40) scale(1 1.040)" font-family="Liberation Sans, sans-serif" font-size="29" fill="#ff8000">2</text>
<text transform="translate(749.50 266.40) scale(1 1.040)" font-family="Liberation Sans, sans-serif" font-size="29" fill="#ff8000">0</text><text transform="translate(765.62 266.40) scale(1 1.000)" font-family="Liberation Sans, sans-serif" font-size="29" fill="#ff8000">.</text><path transform="translate(773.69 266.40) scale(0.01416 -0.01416)" d="M763 0H583V1147Q518 1085 412.5 1023T223 930V1104Q374 1175 487 1276T647 1472H763Z" fill="#ff8000"/>
<text transform="translate(749.50 386.40) scale(1 1.040)" font-family="Liberation Sans, sans-serif" font-size="29" fill="#ff8000">0</text>
<text transform="translate(393.50 469.90) skewX(-28.0) scale(0.900 1.000)" font-family="Liberation Sans, sans-serif" font-size="29" fill="#000">μ</text>
<text transform="translate(414.30 470.70) scale(0.920 1.000)" font-family="Liberation Sans, sans-serif" font-size="29" fill="#000">/</text>
<text transform="translate(423.50 469.90) scale(1.000 1.040)" font-family="Liberation Sans, sans-serif" font-size="29" fill="#000" font-style="italic">E</text>
<text transform="translate(442.50 474.20)" font-family="Liberation Sans, sans-serif" font-size="20.3" fill="#000" font-style="italic">g</text>
<text transform="translate(282.00 49.00) scale(1.000 1.040)" font-family="Liberation Sans, sans-serif" font-size="21" fill="#000" font-style="italic">R</text>
<text transform="translate(297.00 52.30) scale(1.000 1.040)" font-family="Liberation Sans, sans-serif" font-size="14.7" fill="#000" font-style="italic">A</text>
<text transform="translate(170.80 80.00) scale(1.000 1.040)" font-family="Liberation Sans, sans-serif" font-size="21" fill="#000" font-style="italic">L</text>
<text transform="translate(182.80 83.30) scale(1.000 1.040)" font-family="Liberation Sans, sans-serif" font-size="14.7" fill="#000" font-style="italic">B</text>
<text transform="translate(169.60 288.90) scale(1.000 1.040)" font-family="Liberation Sans, sans-serif" font-size="21" fill="#000" font-style="italic">R</text>
<text transform="translate(184.60 292.20) scale(1.000 1.040)" font-family="Liberation Sans, sans-serif" font-size="14.7" fill="#000" font-style="italic">B</text>
<text transform="translate(283.50 320.00) scale(1.000 1.040)" font-family="Liberation Sans, sans-serif" font-size="21" fill="#000" font-style="italic">L</text>
<text transform="translate(295.50 323.30) scale(1.000 1.040)" font-family="Liberation Sans, sans-serif" font-size="14.7" fill="#000" font-style="italic">A</text>
<text transform="translate(357.30 377.50)" font-family="Liberation Sans, sans-serif" font-size="22.5" fill="#000" font-style="italic">μ</text>
<text transform="translate(377.10 378.20) scale(1.040 1.000)" font-family="Liberation Sans, sans-serif" font-size="22.5" fill="#000">=</text>
<text transform="translate(400.10 377.50)" font-family="Liberation Sans, sans-serif" font-size="22.5" fill="#000" font-style="italic">μ</text>
<text transform="translate(412.50 372.00)" font-family="Liberation Sans, sans-serif" font-size="15.7" fill="#000" font-style="italic">*</text>
<g transform="translate(26.4 226) rotate(-90)">
<g fill="none" stroke="#000" stroke-width="2.2" stroke-linejoin="miter">
<path d="M8.3 -20.5 L1.1 -7.7 L8.3 5.1"/>
<path d="M41.8 -20.5 L49.0 -7.7 L41.8 5.1"/>
</g>
<text transform="translate(10.00 0.20) scale(1.000 1.040)" font-family="Liberation Sans, sans-serif" font-size="30" fill="#000">S</text>
<text transform="translate(29.00 -12.70) scale(0.950 1.000)" font-family="Liberation Sans, sans-serif" font-size="20.3" fill="#000" font-style="italic">y</text>
</g>
<g transform="translate(822 232) rotate(-90)">
<text transform="translate(-3.80 0.00) skewX(-26.0)" font-family="Liberation Sans, sans-serif" font-size="29" fill="#ff8000">δ</text>
<text transform="translate(13.60 0.00) scale(0.950 1.000)" font-family="Liberation Sans, sans-serif" font-size="29" fill="#ff8000" font-style="italic">v</text>
<text transform="translate(28.00 0.80)" font-family="Liberation Sans, sans-serif" font-size="29" fill="#ff8000">/</text>
<text transform="translate(36.00 0.00) scale(0.950 1.000)" font-family="Liberation Sans, sans-serif" font-size="29" fill="#ff8000" font-style="italic">v</text>
<text transform="translate(51.60 4.50) scale(0.950 1.040)" font-family="Liberation Sans, sans-serif" font-size="20.3" fill="#ff8000" font-style="italic">F</text>
</g>
</svg>
</body></html>
